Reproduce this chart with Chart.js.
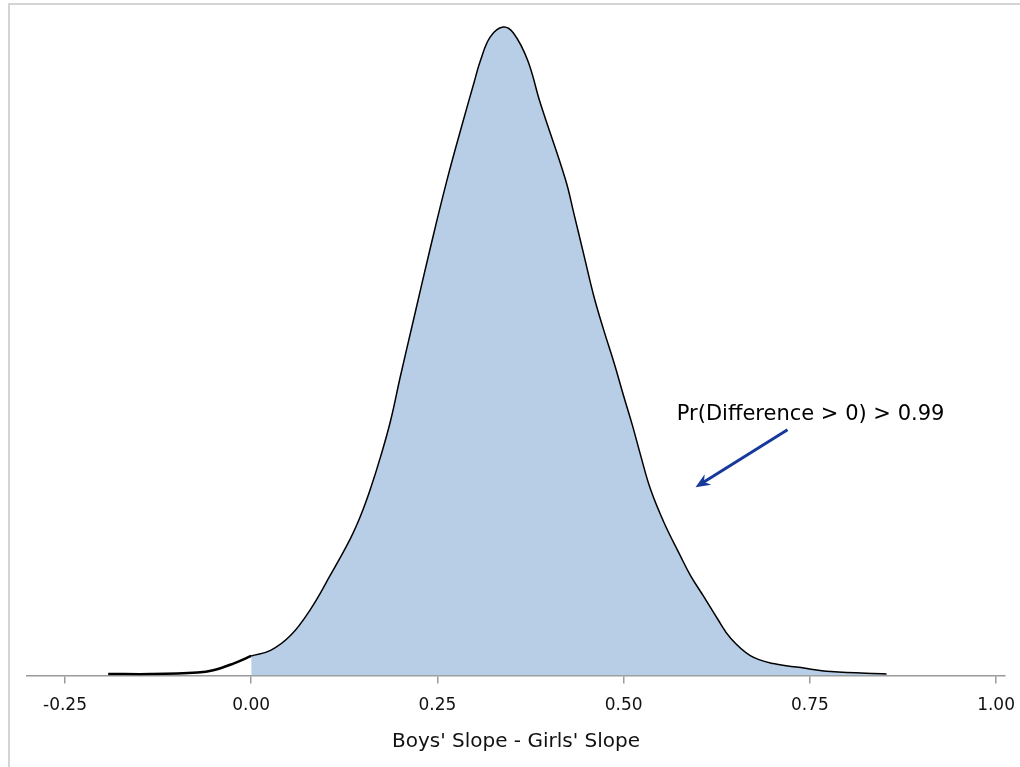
<!DOCTYPE html>
<html>
<head>
<style>
  body { margin: 0; background: #fff; }
  #wrap { position: relative; width: 1020px; height: 767px; overflow: hidden; }
  #frame { position: absolute; left: 8px; top: 3px; width: 1100px; height: 900px;
           border-left: 2px solid #d4d4d4; border-top: 2px solid #d4d4d4; }
  canvas { position: absolute; left: 0; top: 0; }
</style>
</head>

<body>

<div id="wrap">
  <div id="frame"></div>
  <canvas id="myChart" width="1020" height="767"></canvas>
</div>

<script src="https://cdn.jsdelivr.net/npm/chart.js"></script>

<script>
  // kernel density of the slope difference (x = difference, y = density)
  const tailX = [-0.192, -0.135, -0.072, -0.051, -0.024, 0.000];
  const tailY = [0.009, 0.008, 0.016, 0.028, 0.063, 0.103];

  const bodyX = [0.000, 0.026, 0.053, 0.080, 0.106, 0.133, 0.147, 0.160, 0.174, 0.187,
                 0.200, 0.218, 0.241, 0.263, 0.285, 0.299, 0.308, 0.321, 0.338, 0.352,
                 0.371, 0.388, 0.422, 0.433, 0.447, 0.460, 0.473, 0.487, 0.500, 0.512,
                 0.523, 0.536, 0.554, 0.576, 0.590, 0.607, 0.626, 0.644, 0.670, 0.701,
                 0.738, 0.778, 0.853];
  const bodyY = [0.103, 0.132, 0.211, 0.350, 0.525, 0.717, 0.839, 0.978, 1.152, 1.335,
                 1.564, 1.867, 2.251, 2.600, 2.914, 3.107, 3.227, 3.349, 3.400, 3.369,
                 3.227, 3.003, 2.600, 2.426, 2.199, 1.989, 1.815, 1.641, 1.466, 1.309,
                 1.152, 0.978, 0.804, 0.629, 0.523, 0.418, 0.298, 0.194, 0.105, 0.063,
                 0.042, 0.021, 0.009];

  const tickValues = [-0.25, 0, 0.25, 0.5, 0.75, 1.0];
  const axisTitle = "Boys' Slope - Girls' Slope";

  const noteText = 'Pr(Difference > 0) > 0.99';
  const notePos = [0.751, 1.371];
  const arrowFrom = [0.720, 1.289];
  const arrowTo = [0.5965, 0.987];

  const toPoints = (xs, ys) => xs.map((x, i) => ({ x: x, y: ys[i] }));

  const data = {
    datasets: [
      {
        label: 'Difference > 0',
        data: toPoints(bodyX, bodyY),
        borderColor: '#000',
        borderWidth: 1.5,
        backgroundColor: '#B8CEE7',
        fill: 'origin',
        pointRadius: 0,
        tension: 0.4
      },
      {
        label: 'Difference < 0',
        data: toPoints(tailX, tailY),
        borderColor: '#000',
        borderWidth: 2.5,
        fill: false,
        pointRadius: 0,
        tension: 0.4
      }
    ]
  };

  // text and arrow drawn on top of the curve
  const notePlugin = {
    id: 'note',
    afterDatasetsDraw(chart) {
      const ctx = chart.ctx;
      const xs = chart.scales.x, ys = chart.scales.y;
      const x1 = xs.getPixelForValue(arrowFrom[0]), y1 = ys.getPixelForValue(arrowFrom[1]);
      const x2 = xs.getPixelForValue(arrowTo[0]), y2 = ys.getPixelForValue(arrowTo[1]);
      const ang = Math.atan2(y2 - y1, x2 - x1);
      const head = 16;
      ctx.save();
      ctx.strokeStyle = '#17399B';
      ctx.fillStyle = '#17399B';
      ctx.lineWidth = 3;
      ctx.beginPath();
      ctx.moveTo(x1, y1);
      ctx.lineTo(x2 - Math.cos(ang) * 8, y2 - Math.sin(ang) * 8);
      ctx.stroke();
      ctx.beginPath();
      ctx.moveTo(x2, y2);
      ctx.lineTo(x2 - head * Math.cos(ang - 0.4), y2 - head * Math.sin(ang - 0.4));
      ctx.lineTo(x2 - 10 * Math.cos(ang), y2 - 10 * Math.sin(ang));
      ctx.lineTo(x2 - head * Math.cos(ang + 0.4), y2 - head * Math.sin(ang + 0.4));
      ctx.closePath();
      ctx.fill();

      ctx.fillStyle = '#000';
      ctx.font = '21px "DejaVu Sans", sans-serif';
      ctx.textAlign = 'center';
      ctx.textBaseline = 'middle';
      ctx.fillText(noteText, xs.getPixelForValue(notePos[0]), ys.getPixelForValue(notePos[1]));
      ctx.restore();
    }
  };

  const config = {
    type: 'line',
    data: data,
    options: {
      responsive: false,
      animation: false,
      layout: { padding: { left: 27, right: 15, top: 8, bottom: 13 } },
      plugins: { legend: { display: false }, tooltip: { enabled: false } },
      scales: {
        x: {
          type: 'linear',
          min: -0.301,
          max: 1.012,
          afterBuildTicks: (axis) => { axis.ticks = tickValues.map(v => ({ value: v })); },
          // the last label may hang past the axis end, the layout padding leaves room
          afterFit: (axis) => { axis.paddingLeft = 0; axis.paddingRight = 0; },
          ticks: {
            padding: 12,
            color: '#111',
            font: { family: 'DejaVu Sans', size: 17 },
            maxRotation: 0,
            callback: (v) => Number(v).toFixed(2)
          },
          grid: { display: true, drawOnChartArea: false, drawTicks: true, tickLength: 8, color: '#9a9a9a', lineWidth: 1.5 },
          border: { display: true, color: '#9a9a9a', width: 1.5 },
          title: {
            display: true,
            text: axisTitle,
            color: '#111',
            font: { family: 'DejaVu Sans', size: 20 },
            padding: { top: 2, bottom: 0 }
          }
        },
        y: {
          display: false,
          min: 0,
          max: 3.5
        }
      }
    },
    plugins: [notePlugin]
  };

  const myChart = new Chart(document.getElementById('myChart'), config);
</script>

</body>
</html>
